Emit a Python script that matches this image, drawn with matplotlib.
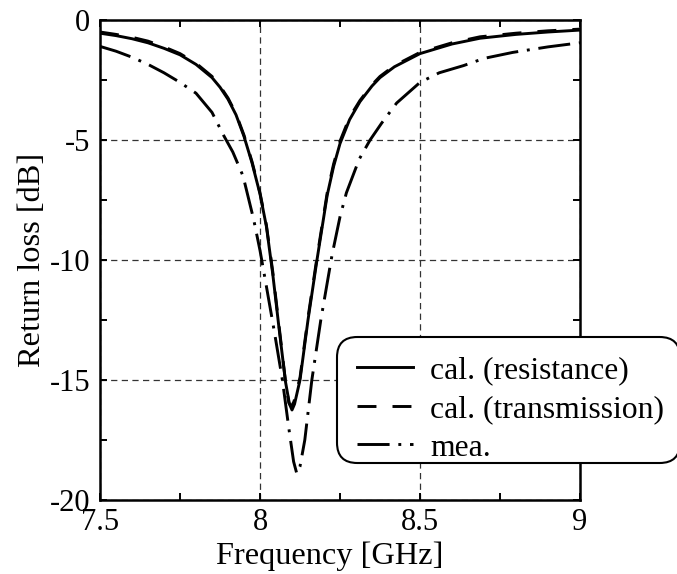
import numpy as np
import matplotlib
matplotlib.use('Agg')
from matplotlib import pyplot as plt
from matplotlib.patches import FancyBboxPatch

# frequency [GHz] / return loss [dB]
f_res = [7.50, 7.55, 7.60, 7.65, 7.70, 7.75, 7.80, 7.85, 7.875, 7.90, 7.925, 7.95,
         7.975, 8.00, 8.02, 8.04, 8.06, 8.08, 8.092, 8.100, 8.108, 8.125, 8.15,
         8.178, 8.21, 8.23, 8.25, 8.28, 8.3125, 8.35, 8.375, 8.42, 8.50, 8.60,
         8.6875, 8.80, 8.90, 9.00]
rl_res = [-0.55, -0.65, -0.78, -0.95, -1.18, -1.45, -1.85, -2.4, -2.8, -3.3, -3.95, -4.85,
          -5.95, -7.25, -8.6, -10.6, -12.9, -15.1, -16.0, -16.25, -16.0, -15.0, -12.5,
          -10.0, -7.3, -6.1, -5.15, -4.15, -3.4, -2.75, -2.4, -1.95, -1.4, -1.0,
          -0.76, -0.6, -0.5, -0.42]

f_tra = [7.50, 7.55, 7.60, 7.65, 7.70, 7.75, 7.80, 7.85, 7.875, 7.90, 7.925, 7.95,
         7.975, 8.00, 8.02, 8.04, 8.06, 8.08, 8.09, 8.098, 8.106, 8.125, 8.15,
         8.178, 8.21, 8.23, 8.25, 8.28, 8.3125, 8.35, 8.375, 8.42, 8.50, 8.60,
         8.6875, 8.80, 8.90, 9.00]
rl_tra = [-0.5, -0.6, -0.72, -0.88, -1.12, -1.4, -1.8, -2.35, -2.75, -3.25, -3.9, -4.8,
          -5.9, -7.2, -8.55, -10.5, -12.8, -15.1, -15.95, -16.1, -15.9, -14.9, -12.4,
          -9.9, -7.2, -6.0, -5.05, -4.05, -3.35, -2.7, -2.35, -1.9, -1.35, -0.95,
          -0.7, -0.55, -0.45, -0.38]

f_mea = [7.50, 7.55, 7.60, 7.65, 7.70, 7.75, 7.80, 7.85, 7.886, 7.915, 7.947, 7.98,
         8.00, 8.02, 8.045, 8.07, 8.09, 8.105, 8.115, 8.125, 8.14, 8.162, 8.19,
         8.225, 8.25, 8.27, 8.31, 8.344, 8.38, 8.427, 8.50, 8.56, 8.636, 8.70,
         8.79, 8.90, 9.00]
rl_mea = [-1.1, -1.3, -1.55, -1.85, -2.2, -2.6, -3.05, -3.85, -4.8, -5.5, -6.5, -8.3,
          -9.6, -11.1, -13.0, -15.0, -17.0, -18.4, -18.9, -18.6, -17.5, -15.0, -12.5,
          -9.8, -8.2, -7.2, -5.8, -5.0, -4.3, -3.46, -2.6, -2.2, -1.9, -1.6,
          -1.35, -1.12, -0.95]

labels = ['cal. (resistance)', 'cal. (transmission)', 'mea.']

plt.rcParams['font.family'] = ['Liberation Serif', 'DejaVu Serif']

W, H = 677, 574
fig = plt.figure(figsize=(W / 100, H / 100), dpi=100)
ax = fig.add_axes([100 / W, 1 - 500 / H, 480 / W, 480 / H])

ax.plot(f_res, rl_res, color='black', lw=2.1, ls='-', label=labels[0])
ax.plot(f_tra, rl_tra, color='black', lw=2.1, ls=(0, (6.5, 5.5)), label=labels[1])
ax.plot(f_mea, rl_mea, color='black', lw=2.1, ls=(0, (11, 3, 1, 3)), label=labels[2])

ax.set_xlim(7.5, 9)
ax.set_ylim(-20, 0)
ax.set_xticks([7.5, 8, 8.5, 9])
ax.set_xticklabels(['7.5', '8', '8.5', '9'])
ax.set_xticks([7.75, 8.25, 8.75], minor=True)
ax.set_yticks([-20, -15, -10, -5, 0])
ax.set_yticklabels(['-20', '-15', '-10', '-5', '0'])
ax.set_yticks([-17.5, -12.5, -7.5, -2.5], minor=True)

ax.tick_params(which='both', direction='in', top=True, right=True,
               length=5, width=1.4, labelsize=22, color='black')
ax.tick_params(axis='x', pad=6)
ax.tick_params(axis='y', pad=7)
for s in ax.spines.values():
    s.set_linewidth(1.8)

ax.grid(True, which='major', color='#333333', lw=0.9, ls=(0, (5, 3.5)))

ax.set_xlabel('Frequency [GHz]', fontsize=23.3)
ax.xaxis.set_label_coords(0.479, -0.086)
ax.set_ylabel('Return loss [dB]', fontsize=23.3, labelpad=2)

# rounded legend box (runs off the right edge like the original)
box = FancyBboxPatch((337 / W, 1 - 463 / H), 343 / W, 126 / H,
                     boxstyle='round,pad=0,rounding_size=0.03',
                     transform=fig.transFigure, clip_on=False,
                     facecolor='white', edgecolor='black', lw=1.5, zorder=4.5,
                     mutation_aspect=W / H)
ax.add_patch(box)

leg = ax.legend(loc='upper left', bbox_to_anchor=(346 / W, 1 - 345 / H),
                bbox_transform=fig.transFigure, borderaxespad=0,
                fontsize=22.8, handlelength=1.75, handletextpad=0.55,
                borderpad=0.35, labelspacing=0.3, frameon=False)

fig.savefig('out.png', dpi=100)
